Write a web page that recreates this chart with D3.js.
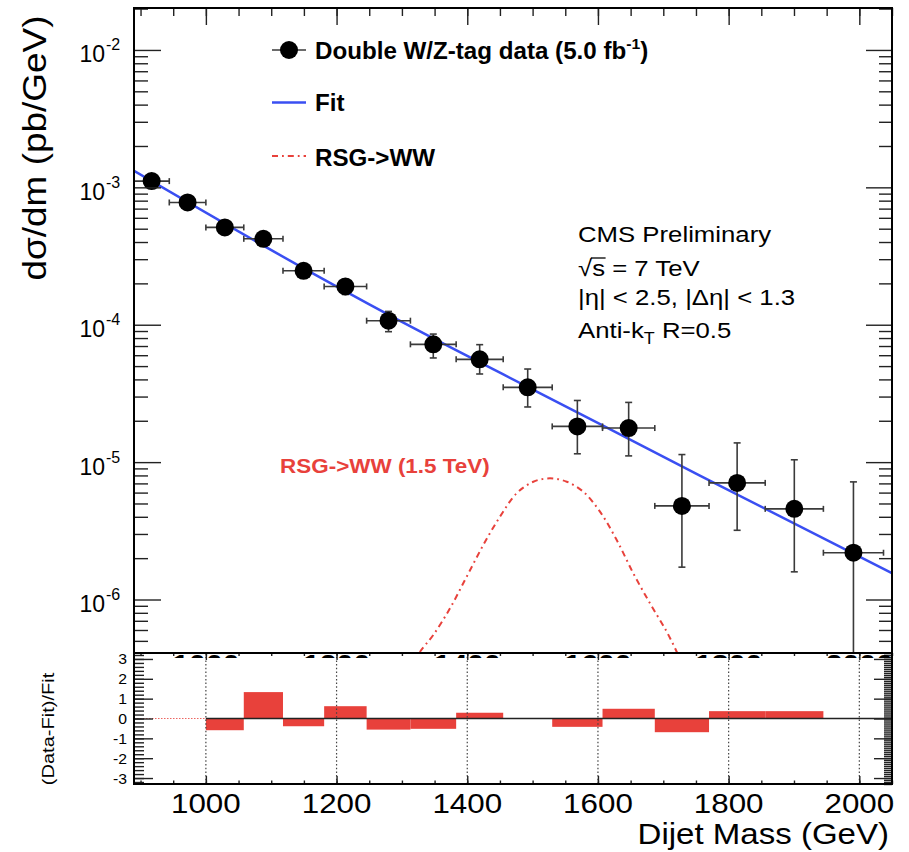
<!DOCTYPE html>
<html><head><meta charset="utf-8">
<script src="https://cdn.jsdelivr.net/npm/d3@7"></script>
<style>
body{margin:0;background:#fff}
svg{display:block}
text{font-family:"Liberation Sans",Arial,Helvetica,sans-serif}
</style>
</head><body>
<svg id="c" width="909" height="852"></svg>
<script>
// ---------------- data ----------------
const massBinEdges = [890, 944, 1000, 1058, 1118, 1181, 1246, 1313, 1383, 1455, 1530, 1607, 1687, 1770, 1856, 1945, 2037];
const dataValues = [1.11e-3, 7.76e-4, 5.11e-4, 4.22e-4, 2.47e-4, 1.90e-4, 1.07e-4, 7.2e-5, 5.6e-5, 3.5e-5, 1.82e-5, 1.77e-5, 4.8e-6, 7.06e-6, 4.57e-6, 2.19e-6];
const dataLow  = [1.046e-3, 7.23e-4, 4.69e-4, 3.85e-4, 2.19e-4, 1.66e-4, 8.9e-5, 5.73e-5, 4.38e-5, 2.52e-5, 1.15e-5, 1.11e-5, 1.72e-6, 3.19e-6, 1.59e-6, 1e-9];
const dataHigh = [1.174e-3, 8.29e-4, 5.53e-4, 4.59e-4, 2.75e-4, 2.14e-4, 1.25e-4, 8.55e-5, 7.16e-5, 4.76e-5, 2.81e-5, 2.72e-5, 1.135e-5, 1.38e-5, 1.04e-5, 7.18e-6];
const fitMass   = [890, 1149, 1343, 1493, 1756, 2050];
const fitValues = [1.32e-3, 2.585e-4, 8.18e-5, 3.52e-5, 7.98e-6, 1.554e-6];
const signalMass   = [1315, 1327.7, 1348, 1373.6, 1399.1, 1424.5, 1450.1, 1475.6, 1501.1, 1526.6, 1552.2, 1577.6, 1603.1, 1628.7, 1654.1, 1679.6, 1705.2, 1720.5, 1730];
const signalValues = [3.3e-7, 4.17e-7, 5.52e-7, 8.63e-7, 1.466e-6, 2.49e-6, 4.01e-6, 5.93e-6, 7.20e-6, 7.62e-6, 7.20e-6, 6.09e-6, 4.36e-6, 2.71e-6, 1.551e-6, 9.39e-7, 5.83e-7, 4.17e-7, 3.3e-7];
const residualValues = [0, 0, -0.59, 1.33, -0.39, 0.62, -0.56, -0.52, 0.29, 0, -0.42, 0.49, -0.69, 0.37, 0.37, 0];
const xTickLabels = [1000, 1200, 1400, 1600, 1800, 2000];
const yTickExponents = [-2, -3, -4, -5, -6];
const ratioTickLabels = [3, 2, 1, 0, -1, -2, -3];

// ---------------- layout ----------------
const L = 134, R = 892, T = 8, MB = 653, LB = 784;
const BLUE = "#3a4ff2", RED = "#e8413b", SX = 1.12;
const svg = d3.select("#c");
const x  = d3.scaleLinear().domain([890, 2050]).range([L, R]);
const y  = d3.scaleLog().domain([4.08e-7, 0.0202]).range([MB, T]);
const yr = d3.scaleLinear().domain([-3.3, 3.3]).range([LB, MB]);

const defs = svg.append("defs");
defs.append("clipPath").attr("id", "mainClip").append("rect").attr("x", L).attr("y", T).attr("width", R - L).attr("height", MB - T);
defs.append("clipPath").attr("id", "blobClip").append("rect").attr("x", L - 40).attr("y", 650).attr("width", R - L + 80).attr("height", 8);

function txt(parent, x0, y0, o) {
  const g = parent.append("g").attr("transform",
    `translate(${x0},${y0})` + (o.rotate ? ` rotate(${o.rotate})` : "") + ` scale(${o.sx || 1},1)`);
  const t = g.append("text").attr("font-size", o.size).attr("fill", o.color || "#000")
    .attr("text-anchor", o.anchor || "start");
  if (o.bold) t.attr("font-weight", "bold");
  (o.parts || [{ t: o.text }]).forEach(p => {
    const ts = t.append("tspan").text(p.t);
    if (p.size) ts.attr("font-size", p.size);
    if (p.dy) ts.attr("dy", p.dy);
  });
  return { g, t };
}

// ---------------- lower panel ----------------
const lower = svg.append("g");
const bins = residualValues.map((v, i) => ({ lo: massBinEdges[i], hi: massBinEdges[i + 1], v }));
lower.selectAll("rect.bar").data(bins.filter(d => d.v !== 0)).join("rect")
  .attr("x", d => x(d.lo)).attr("width", d => x(d.hi) - x(d.lo))
  .attr("y", d => Math.min(yr(d.v), yr(0))).attr("height", d => Math.abs(yr(d.v) - yr(0)))
  .attr("fill", RED);
// grid lines
lower.selectAll("line.grid").data(xTickLabels).join("line")
  .attr("x1", d => x(d)).attr("x2", d => x(d)).attr("y1", MB).attr("y2", LB)
  .attr("stroke", "#444").attr("stroke-width", 1.2).attr("stroke-dasharray", "1.5,2.2");
// zero line
lower.append("line").attr("x1", L).attr("x2", x(1000)).attr("y1", yr(0)).attr("y2", yr(0))
  .attr("stroke", RED).attr("stroke-width", 1).attr("stroke-dasharray", "1.5,1.5").attr("opacity", 0.8);
lower.append("line").attr("x1", x(1000)).attr("x2", R).attr("y1", yr(0)).attr("y2", yr(0))
  .attr("stroke", "#222").attr("stroke-width", 1.6);

// ---------------- main panel content ----------------
const main = svg.append("g").attr("clip-path", "url(#mainClip)");
// signal
main.append("path")
  .datum(signalMass.map((m, i) => [m, signalValues[i]]))
  .attr("d", d3.line().x(d => x(d[0])).y(d => y(d[1])).curve(d3.curveCatmullRom))
  .attr("fill", "none").attr("stroke", RED).attr("stroke-width", 2).attr("stroke-dasharray", "6,4,1.8,4");
// fit
main.append("path")
  .datum(fitMass.map((m, i) => [m, fitValues[i]]))
  .attr("d", d3.line().x(d => x(d[0])).y(d => y(d[1])).curve(d3.curveMonotoneX))
  .attr("fill", "none").attr("stroke", BLUE).attr("stroke-width", 2.5);
// data points
const pts = dataValues.map((v, i) => ({ lo: massBinEdges[i], hi: massBinEdges[i + 1], m: (massBinEdges[i] + massBinEdges[i + 1]) / 2, v, el: dataLow[i], eh: dataHigh[i] }));
const eb = main.append("g").attr("stroke", "#3a3a3a").attr("stroke-width", 1.6).attr("fill", "none");
pts.forEach(p => {
  const cy = y(p.v), cx = x(p.m);
  eb.append("line").attr("x1", x(p.lo)).attr("x2", x(p.hi)).attr("y1", cy).attr("y2", cy);
  eb.append("line").attr("x1", x(p.lo)).attr("x2", x(p.lo)).attr("y1", cy - 3).attr("y2", cy + 3);
  eb.append("line").attr("x1", x(p.hi)).attr("x2", x(p.hi)).attr("y1", cy - 3).attr("y2", cy + 3);
  eb.append("line").attr("x1", cx).attr("x2", cx).attr("y1", y(p.eh)).attr("y2", y(p.el));
  eb.append("line").attr("x1", cx - 3.5).attr("x2", cx + 3.5).attr("y1", y(p.eh)).attr("y2", y(p.eh));
  eb.append("line").attr("x1", cx - 3.5).attr("x2", cx + 3.5).attr("y1", y(p.el)).attr("y2", y(p.el));
});
main.selectAll("circle.pt").data(pts).join("circle")
  .attr("cx", d => x(d.m)).attr("cy", d => y(d.v)).attr("r", 9).attr("fill", "#000");

// ---------------- axes / ticks ----------------
function styleAxis(g) {
  g.select(".domain").remove();
  g.selectAll(".tick text").remove();
  g.selectAll(".tick line").attr("stroke", "#222").attr("stroke-width", 1.4);
}
const yMajor = yTickExponents.map(e => Math.pow(10, e));
const yMinor = [];
for (let e = -7; e <= -2; e++) for (let k = 2; k <= 9; k++) { const v = k * Math.pow(10, e); if (v >= 4.08e-7 && v <= 0.0202) yMinor.push(v); }
const xMinor = d3.range(900, 2051, 50);
const rMinorL = d3.range(-3.2, 3.21, 0.2).map(v => +v.toFixed(2));
const rMinorR = d3.range(-3.3, 3.31, 0.1).map(v => +v.toFixed(2));
const axes = svg.append("g");
axes.append("g").attr("transform", `translate(${L},0)`).call(d3.axisLeft(y).tickValues(yMinor).tickSize(-14).tickFormat("")).call(styleAxis);
axes.append("g").attr("transform", `translate(${L},0)`).call(d3.axisLeft(y).tickValues(yMajor).tickSize(-27).tickFormat("")).call(styleAxis);
axes.append("g").attr("transform", `translate(${R},0)`).call(d3.axisRight(y).tickValues(yMinor).tickSize(-13).tickFormat("")).call(styleAxis);
axes.append("g").attr("transform", `translate(${R},0)`).call(d3.axisRight(y).tickValues(yMajor).tickSize(-26).tickFormat("")).call(styleAxis);
axes.append("g").attr("transform", `translate(0,${T})`).call(d3.axisTop(x).tickValues(xMinor).tickSize(-8).tickFormat("")).call(styleAxis);
axes.append("g").attr("transform", `translate(0,${T})`).call(d3.axisTop(x).tickValues(xTickLabels).tickSize(-17).tickFormat("")).call(styleAxis);
// lower panel
axes.append("g").attr("transform", `translate(${L},0)`).call(d3.axisLeft(yr).tickValues(rMinorL).tickSize(-10).tickFormat("")).call(styleAxis);
axes.append("g").attr("transform", `translate(${L},0)`).call(d3.axisLeft(yr).tickValues(ratioTickLabels).tickSize(-19).tickFormat("")).call(styleAxis);
axes.append("g").attr("transform", `translate(${R},0)`).call(d3.axisRight(yr).tickValues(rMinorR).tickSize(-8).tickFormat("")).call(styleAxis);
axes.append("g").attr("transform", `translate(${R},0)`).call(d3.axisRight(yr).tickValues(ratioTickLabels).tickSize(-18).tickFormat("")).call(styleAxis);
axes.append("g").attr("transform", `translate(0,${MB})`).call(d3.axisTop(x).tickValues(xMinor).tickSize(-3).tickFormat("")).call(styleAxis);
axes.append("g").attr("transform", `translate(0,${MB})`).call(d3.axisTop(x).tickValues(xTickLabels).tickSize(-7).tickFormat("")).call(styleAxis);
axes.append("g").attr("transform", `translate(0,${LB})`).call(d3.axisBottom(x).tickValues(xMinor).tickSize(-3.5).tickFormat("")).call(styleAxis);
axes.append("g").attr("transform", `translate(0,${LB})`).call(d3.axisBottom(x).tickValues(xTickLabels).tickSize(-8).tickFormat("")).call(styleAxis);

// frames
svg.append("rect").attr("x", L).attr("y", T).attr("width", R - L).attr("height", MB - T).attr("fill", "none").attr("stroke", "#000").attr("stroke-width", 2);
svg.append("rect").attr("x", L).attr("y", MB).attr("width", R - L).attr("height", LB - MB).attr("fill", "none").attr("stroke", "#000").attr("stroke-width", 2);

// clipped tick labels of upper pad (only tops visible)
const blobs = svg.append("g").attr("clip-path", "url(#blobClip)");
xTickLabels.forEach(v => txt(blobs, x(v), 674, { text: String(v), size: 27, sx: SX, anchor: "middle", bold: true }));

// ---------------- tick labels ----------------
yTickExponents.forEach(e => {
  const yy = y(Math.pow(10, e));
  txt(svg, 105, yy + 12.5, { text: "10", size: 23, anchor: "end" });
  txt(svg, 106, yy + 0.5, { text: String(e), size: 16 });
});
ratioTickLabels.forEach(v => txt(svg, 127, yr(v) + 5.5, { text: String(v), size: 15, sx: 1.05, anchor: "end" }));
xTickLabels.forEach(v => txt(svg, x(v), 813, { text: String(v), size: 28, sx: SX, anchor: "middle" }));

// axis titles
txt(svg, 889, 844, { text: "Dijet Mass (GeV)", size: 29.5, sx: SX, anchor: "end" });
txt(svg, 46, 148, { text: "dσ/dm (pb/GeV)", size: 33, sx: SX, anchor: "middle", rotate: -90 });
txt(svg, 54, 729, { text: "(Data-Fit)/Fit", size: 17, sx: 1.18, anchor: "middle", rotate: -90 });

// ---------------- legend ----------------
svg.append("line").attr("x1", 272).attr("x2", 306).attr("y1", 50).attr("y2", 50).attr("stroke", "#3a3a3a").attr("stroke-width", 1.6);
svg.append("circle").attr("cx", 289).attr("cy", 50).attr("r", 9).attr("fill", "#000");
txt(svg, 315, 58.5, { size: 23, bold: true, sx: 1.05, parts: [{ t: "Double W/Z-tag data (5.0 fb" }, { t: "-1", size: 15, dy: -10 }, { t: ")", dy: 10 }] });
svg.append("line").attr("x1", 272).attr("x2", 306).attr("y1", 102.5).attr("y2", 102.5).attr("stroke", BLUE).attr("stroke-width", 2.5);
txt(svg, 315, 111, { text: "Fit", size: 23, bold: true, sx: 1.05 });
svg.append("line").attr("x1", 272).attr("x2", 306).attr("y1", 156).attr("y2", 156).attr("stroke", RED).attr("stroke-width", 2).attr("stroke-dasharray", "6,4,1.8,4");
txt(svg, 315, 166, { text: "RSG->WW", size: 23, bold: true, sx: 1.05 });

// ---------------- annotations ----------------
txt(svg, 578, 242, { text: "CMS Preliminary", size: 23, sx: SX });
const sq = txt(svg, 578, 276, { text: "√s = 7 TeV", size: 23, sx: SX });
{
  const n = sq.t.node();
  const a = n.getSubStringLength(0, 1), w = n.getSubStringLength(1, 1);
  sq.g.append("line").attr("x1", a - 1).attr("x2", a + w + 0.5).attr("y1", -18).attr("y2", -18).attr("stroke", "#000").attr("stroke-width", 1.3);
}
txt(svg, 578, 305, { text: "|η| < 2.5, |Δη| < 1.3", size: 23, sx: SX });
txt(svg, 578, 338, { size: 23, sx: SX, parts: [{ t: "Anti-k" }, { t: "T", size: 16, dy: 6 }, { t: " R=0.5", dy: -6 }] });
txt(svg, 280, 473, { text: "RSG->WW (1.5 TeV)", size: 21, bold: true, sx: 1.07, color: RED });
</script>
</body></html>
